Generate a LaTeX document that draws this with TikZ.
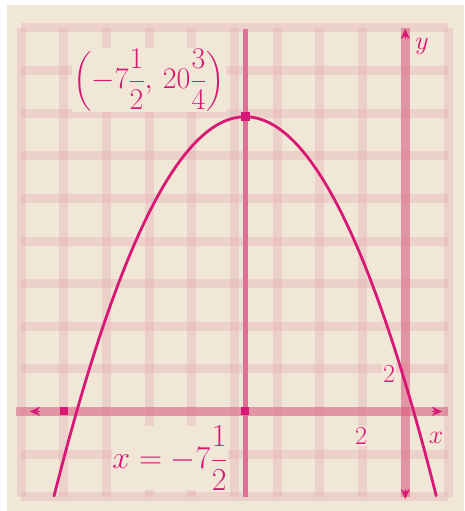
\RequirePackage{fix-cm}
\documentclass[tikz,border=0pt]{standalone}
\usepackage{amsmath}
\usetikzlibrary{arrows.meta}
\definecolor{beige}{RGB}{241,231,215}
\definecolor{gridpink}{RGB}{228,164,175}
\definecolor{axispink}{RGB}{216,80,120}
\definecolor{sympink}{RGB}{224,112,150}
\definecolor{mag}{RGB}{216,24,116}
\tikzset{
  gridline/.style={draw=gridpink, draw opacity=0.32, line width=9pt},
  axisline/.style={draw=axispink, draw opacity=0.45, line width=9pt},
  symline/.style={draw=sympink, line width=5pt},
  curveline/.style={draw=mag, line width=2.8pt, line cap=round},
  tipline/.style={draw=mag, line width=0.2pt, -{Stealth[length=10pt,width=9pt]}},
  ptdot/.style={fill=mag, minimum size=9pt, inner sep=0pt, rectangle},
  lbl/.style={text=mag, fill=beige, inner sep=1pt, font=\fontsize{30}{36}\selectfont},
  smalllbl/.style={text=mag, fill=beige, inner sep=1pt, font=\fontsize{26}{30}\selectfont}
}
\begin{document}
\begin{tikzpicture}[x=1pt,y=-1pt]
\useasboundingbox (0,0) rectangle (464,511);
\fill[white] (0,0) rectangle (464,511);
\fill[beige] (7,5) rectangle (464,511);
% grid
\foreach \i in {0,...,10} {
  \draw[gridline] ({21+42.7*\i},28) -- ({21+42.7*\i},497);
}
\foreach \j in {0,...,11} {
  \draw[gridline] (21,{28+42.6*\j}) -- (448,{28+42.6*\j});
}
% axes
\coordinate (O) at (405.3,411.4);
\coordinate (xl) at (16,411.4);
\coordinate (xr) at (448,411.4);
\coordinate (yt) at (405.3,28);
\coordinate (yb) at (405.3,497);
\draw[axisline] (xl) -- (xr);
\draw[axisline] (yt) -- (yb);
% axis tips
\coordinate (xlt) at (30,411.4);
\coordinate (xrt) at (442,411.4);
\coordinate (ytt) at (405.3,29);
\coordinate (ybt) at (405.3,499);
\draw[tipline] (40,411.4) -- (xlt);
\draw[tipline] (432,411.4) -- (xrt);
\draw[tipline] (405.3,39) -- (ytt);
\draw[tipline] (405.3,489) -- (ybt);
% symmetry line
\coordinate (st) at (245.2,29);
\coordinate (sb) at (245.2,497);
\draw[symline] (st) -- (sb);
% parabola y = -x^2/3 - 5x + 2
\draw[curveline] plot[domain=-16.45:1.45, samples=120, smooth]
  ({405.3+21.35*\x},{411.4-14.2*(-\x*\x/3-5*\x+2)});
% points
\node[ptdot] (vtx) at (245.2,116.7) {};
\node[ptdot, minimum size=8pt] (pl) at (64,411.4) {};
\node[ptdot, minimum size=8pt] (pm) at (245.2,411.4) {};
% labels
\node[lbl] (vlabel) at (149,80) {$\left(-7\dfrac{1}{2},\, 20\dfrac{3}{4}\right)$};
\node[lbl, inner sep=0pt, font=\fontsize{32}{38}\selectfont] (slabel) at (170,458) {$x=-7\dfrac{1}{2}$};
\node[smalllbl] (two) at (361,436) {2};
\node[smalllbl] (twoy) at (389,374) {2};
\node[smalllbl, fill=none] (ylab) at (422,46) {$y$};
\node[smalllbl, fill=none] (xlab) at (436,438) {$x$};
\end{tikzpicture}
\end{document}
